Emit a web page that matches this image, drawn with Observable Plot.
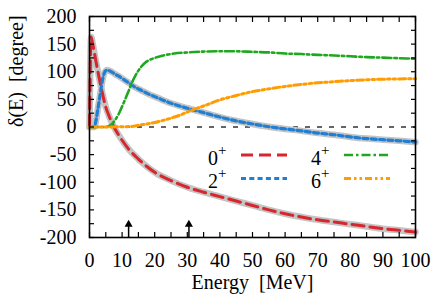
<!DOCTYPE html>
<html><head><meta charset="utf-8">
<script src="https://cdn.jsdelivr.net/npm/d3@7"></script>
<script src="https://cdn.jsdelivr.net/npm/@observablehq/plot@0.6"></script>
<style>
body{margin:0;background:#fff}
#wrap{position:relative;width:436px;height:305px}
#legend{position:absolute;left:0;top:0;pointer-events:none}
</style>
</head><body><div id="wrap"></div>
<script>
// Phase shifts δ(E) [degree] vs Energy [MeV]
const wave0 = [[0,0],[0.5,163],[1,150],[2,118],[3,88],[4,60],[5,36],[6,20],[7.5,0],[9,-15],[10,-24],[12,-40],[15,-58],[17.5,-71],[20,-82],[25,-97],[30,-109],[35,-118],[40,-126],[45,-134],[50,-142],[55,-150],[60,-157],[65,-163],[70,-168],[75,-172],[80,-176],[85,-180],[90,-184],[95,-187],[100,-190]];
const wave2 = [[0,0],[1.5,0],[2,12],[2.5,30],[3,48],[3.5,68],[4,86],[4.5,97],[5,102],[5.5,103],[6,102],[7,99],[8,95],[9,92],[10,88],[12,80],[14,72],[16,66],[18,60],[20,55],[22,50],[25,43],[30,34],[35,26],[40,18],[45,11],[50,5.5],[55,0.5],[60,-3.5],[65,-7],[70,-11],[75,-14],[80,-18],[85,-21],[90,-23],[95,-25],[100,-27.5]];
const wave4 = [[0,0],[5,0],[6,2],[7,6],[8,14],[9,24],[10,37],[11,51],[12,65],[13,80],[14,92],[15,102],[16,110],[17,116],[18,120],[20,125],[23,130],[26,133],[30,135],[35,136.5],[40,137],[45,137],[50,136],[55,135],[60,133],[65,132],[70,130.5],[75,129.5],[80,128],[85,126.5],[90,125.5],[95,124.5],[100,123.5]];
const wave6 = [[0,0],[5,0],[10,0.5],[13,1],[15,3],[18,6],[20,8],[22,11],[25,16],[28,22],[30,27],[32,32],[35,38],[40,49],[45,57],[50,64],[55,69],[60,73.5],[65,77],[70,80],[75,82],[80,84],[85,85.5],[90,86.5],[95,87],[100,87.5]];

const seriesLabels = ["0", "2", "4", "6"];
const seriesColors = ["#d7262e", "#1f7fd4", "#1fa81f", "#ff9c00"];
const seriesDash = ["12,6", "5,3.3", "9,3,2.5,3", "7,3,2.5,3,2.5,3"];
const seriesWidth = [3, 3.2, 2.6, 3];
const underlayColor = "#c4c4c4";

const arrowEnergies = [12, 30.5];
const arrowBase = -200, arrowHead = -176.5;

const xMajor = d3.range(0, 101, 10);
const xMinor = d3.range(0, 101, 5);
const yMajor = d3.range(-200, 201, 50);
const yMinor = d3.range(-200, 201, 25);
const xLabel = "Energy\u00a0\u00a0[MeV]";
const yLabel = "\u03b4(E)\u00a0\u00a0[degree]";

const font = "Liberation Serif";
const toRows = pts => pts.map(([E, d]) => ({E, d}));
const waves = [wave0, wave2, wave4, wave6].map(toRows);
const curve = "monotone-x";

const lineMark = (i) => Plot.line(waves[i], {x: "E", y: "d", stroke: seriesColors[i], strokeWidth: seriesWidth[i], strokeDasharray: seriesDash[i], curve});

const chart = Plot.plot({
  width: 436, height: 305,
  marginLeft: 89, marginRight: 21, marginTop: 16, marginBottom: 68,
  x: {domain: [0, 100], axis: null},
  y: {domain: [-200, 200], axis: null},
  style: {background: "white", color: "black"},
  marks: [
    Plot.ruleY([0], {stroke: "#333", strokeDasharray: "5,7", strokeWidth: 1.3}),
    Plot.line(waves[0], {x: "E", y: "d", stroke: underlayColor, strokeWidth: 6.5, curve}),
    Plot.line(waves[1], {x: "E", y: "d", stroke: underlayColor, strokeWidth: 6.5, curve}),
    lineMark(0), lineMark(1), lineMark(2), lineMark(3),
    Plot.ruleX(arrowEnergies, {x: d => d, y1: arrowBase, y2: arrowHead, stroke: "black", strokeWidth: 1.5}),
    Plot.dot(arrowEnergies, {x: d => d, y: arrowHead, symbol: "triangle", fill: "black", r: 3}),
    Plot.frame({stroke: "black", strokeWidth: 1.6}),
    Plot.axisX(xMinor, {anchor: "bottom", tickSize: -5, tickFormat: () => "", label: null, strokeWidth: 1.2}),
    Plot.axisX(xMinor, {anchor: "top", tickSize: -5, tickFormat: () => "", label: null, strokeWidth: 1.2}),
    Plot.axisY(yMinor, {anchor: "left", tickSize: -5, tickFormat: () => "", label: null, strokeWidth: 1.2}),
    Plot.axisY(yMinor, {anchor: "right", tickSize: -5, tickFormat: () => "", label: null, strokeWidth: 1.2}),
    Plot.axisX(xMajor, {anchor: "bottom", tickSize: 0, tickPadding: 15, tickFormat: d => String(d), label: null, fontSize: 20}),
    Plot.axisY(yMajor, {anchor: "left", tickSize: 0, tickPadding: 13, tickFormat: d => String(d), label: null, fontSize: 20}),
    Plot.text([xLabel], {text: d => d, frameAnchor: "bottom", dy: 51.6, fontSize: 20}),
    Plot.text([yLabel], {text: d => d, frameAnchor: "left", dx: -73, rotate: -90, fontSize: 20})
  ]
});
const wrap = document.getElementById("wrap");
wrap.appendChild(chart);
chart.setAttribute("font-family", font);
chart.querySelectorAll("g, text, tspan").forEach(el => { if (el.hasAttribute("font-family")) el.setAttribute("font-family", font); });
chart.querySelectorAll("text").forEach(el => { el.style.fontFamily = font; });

// Legend overlay (two columns, two rows)
const leg = d3.select(wrap).append("svg").attr("id", "legend").attr("width", 436).attr("height", 305);
const legendCols = [[0, 1], [2, 3]];
const colX = [208, 311], sampleX = [[241, 287], [344, 390]];
const rowBase = [165, 187.5], rowLine = [155, 178.5];
legendCols.forEach((col, c) => col.forEach((si, r) => {
  const t = leg.append("text").attr("x", colX[c]).attr("y", rowBase[r]).attr("font-size", 20).attr("font-family", font).attr("fill", "black");
  t.append("tspan").text(seriesLabels[si]);
  t.append("tspan").attr("font-size", 15).attr("dy", -10).text("+");
  leg.append("line").attr("x1", sampleX[c][0]).attr("x2", sampleX[c][1]).attr("y1", rowLine[r]).attr("y2", rowLine[r])
    .attr("stroke", seriesColors[si]).attr("stroke-width", seriesWidth[si]).attr("stroke-dasharray", seriesDash[si]);
}));
</script>
</body></html>
